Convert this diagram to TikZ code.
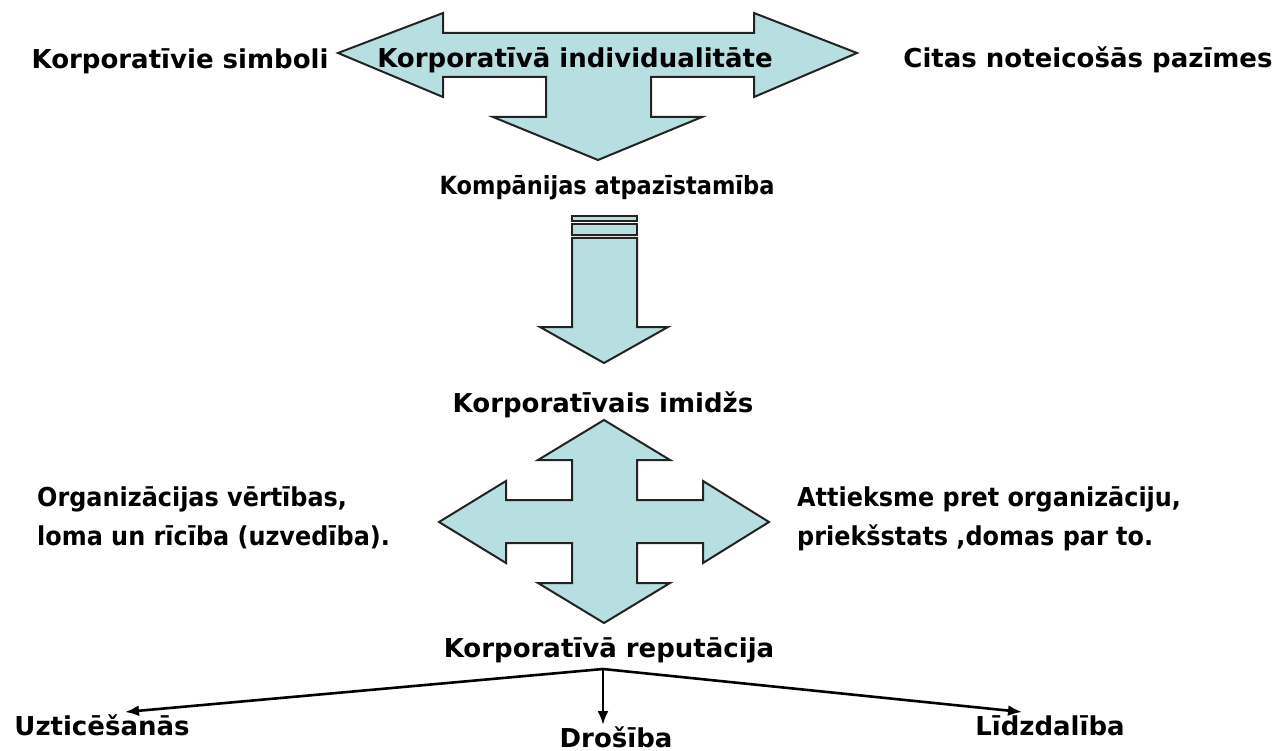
\documentclass[tikz,border=0pt]{standalone}
\usepackage{fontspec}
\setmainfont{DejaVu Sans}
\newfontfamily\narrowfont[FakeStretch=0.9]{DejaVu Sans}
\newfontfamily\paranarrow[FakeStretch=0.92]{DejaVu Sans}
\usetikzlibrary{arrows.meta}
\definecolor{arrowfill}{RGB}{183,222,225}
\definecolor{arrowline}{RGB}{35,35,35}
\begin{document}
\begin{tikzpicture}[x=1pt,y=-1pt,
  bigarrow/.style={fill=arrowfill,draw=arrowline,line width=2pt,line join=miter},
  lbl/.style={inner sep=0pt,font=\bfseries\fontsize{26}{39}\selectfont},
  para/.style={inner sep=0pt,align=left,font=\paranarrow\bfseries\fontsize{26}{39}\selectfont},
  conn/.style={line width=2.6pt,-{Latex[length=14pt,width=11pt]}}]
\useasboundingbox (0,0) rectangle (1281,751);
% top three-way arrow
\draw[bigarrow] (338,53) -- (443,13) -- (443,33) -- (754,33) -- (754,13) -- (857,53)
  -- (754,97) -- (754,77) -- (651,77) -- (651,117) -- (702,117) -- (598,160)
  -- (493,117) -- (546,117) -- (546,77) -- (443,77) -- (443,97) -- cycle;
% middle striped down arrow
\draw[bigarrow] (572,216) rectangle (637,221);
\draw[bigarrow] (572,224) rectangle (637,235);
\draw[bigarrow] (572,238) -- (637,238) -- (637,327) -- (668,327) -- (604,363)
  -- (540,327) -- (572,327) -- cycle;
% four-way arrow
\draw[bigarrow] (604,420) -- (670,460) -- (637,460) -- (637,500) -- (703,500) -- (703,481)
  -- (769,522) -- (703,563) -- (703,543) -- (637,543) -- (637,583) -- (670,583)
  -- (604,623) -- (538,583) -- (572,583) -- (572,543) -- (506,543) -- (506,563)
  -- (439,522) -- (506,481) -- (506,500) -- (572,500) -- (572,460) -- (538,460) -- cycle;
% texts
\node[lbl,anchor=base] (sym) at (180,69) {Korporatīvie simboli};
\node[lbl,anchor=base] (ind) at (575,68) {Korporatīvā individualitāte};
\node[lbl,anchor=base] (cit) at (1088,68) {Citas noteicošās pazīmes};
\node[lbl,anchor=base,font=\narrowfont\bfseries\fontsize{25}{30}\selectfont] (atp) at (607,195) {Kompānijas atpazīstamība};
\node[lbl,anchor=base] (imi) at (603,412) {Korporatīvais imidžs};
\node[para,anchor=base west] (org) at (37,545) {Organizācijas vērtības,\\loma un rīcība (uzvedība).};
\node[para,anchor=base west] (att) at (797,545) {Attieksme pret organizāciju,\\priekšstats ,domas par to.};
\node[lbl,anchor=base] (rep) at (609,657) {Korporatīvā reputācija};
\node[lbl,anchor=base] (uzt) at (102,735) {Uzticēšanās};
\node[lbl,anchor=base] (dro) at (616,747) {Drošība};
\node[lbl,anchor=base] (lid) at (1050,735) {Līdzdalība};
% bottom connectors
\coordinate (j) at (603,669);
\coordinate (tl) at (125,712);
\coordinate (tm) at (603,725);
\coordinate (tr) at (1022,712);
\draw[conn] (j) -- (tl);
\draw[conn] (j) -- (tm);
\draw[conn] (j) -- (tr);
\end{tikzpicture}
\end{document}
